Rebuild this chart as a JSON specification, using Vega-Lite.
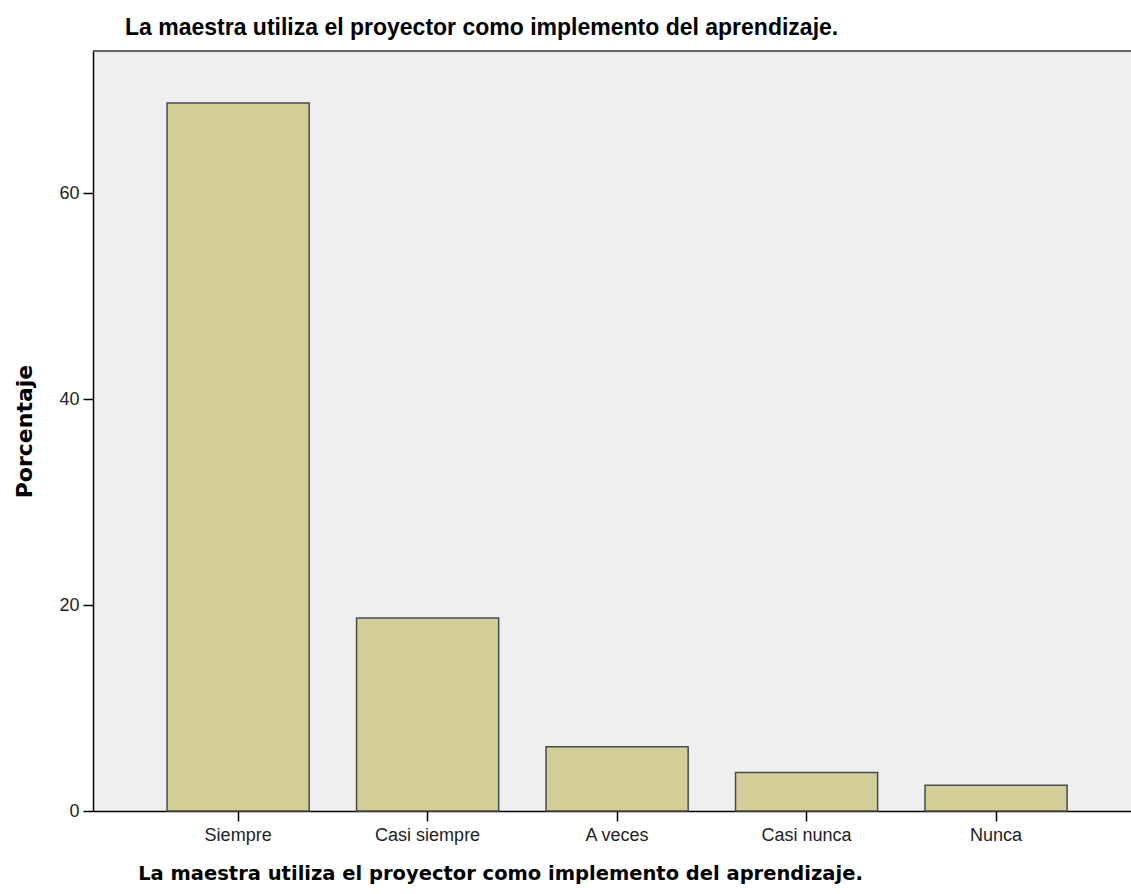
{
  "$schema": "https://vega.github.io/schema/vega-lite/v6.json",
  "autosize": "none",
  "padding": {"left": 93, "top": 51, "right": 0, "bottom": 83},
  "width": 1038,
  "height": 760,
  "background": "white",
  "config": {
    "view": {"fill": "#EFEFEF", "stroke": null},
    "font": "Liberation Sans"
  },
  "title": {
    "text": "La maestra utiliza el proyector como implemento del aprendizaje.",
    "anchor": "start",
    "frame": "group",
    "dx": 32,
    "offset": 10,
    "font": "Liberation Sans",
    "fontSize": 23,
    "fontWeight": "bold",
    "color": "#000000"
  },
  "data": {
    "values": [
      {"cat": "Siempre", "pct": 68.75},
      {"cat": "Casi siempre", "pct": 18.75},
      {"cat": "A veces", "pct": 6.25},
      {"cat": "Casi nunca", "pct": 3.75},
      {"cat": "Nunca", "pct": 2.5}
    ]
  },
  "layer": [
    {
      "mark": {"type": "bar", "fill": "#D3CE98", "stroke": "#4a4a4a", "strokeWidth": 1.5},
      "encoding": {
        "x": {
          "field": "cat",
          "type": "nominal",
          "sort": null,
          "scale": {"paddingInner": 0.25, "paddingOuter": 0.364, "align": 0.537},
          "axis": {
            "title": "La maestra utiliza el proyector como implemento del aprendizaje.",
            "titleFont": "DejaVu Sans",
            "titleFontSize": 19.5,
            "titleFontWeight": "bold",
            "titleColor": "#000000",
            "titleX": 407,
            "titleY": 68,
            "titleAlign": "center",
            "titleBaseline": "alphabetic",
            "labelAngle": 0,
            "labelFontSize": 18,
            "labelColor": "#222222",
            "labelPadding": 5,
            "domainColor": "#000000",
            "domainWidth": 1.5,
            "tickColor": "#000000",
            "tickSize": 10,
            "tickWidth": 1.5,
            "grid": false
          }
        },
        "y": {
          "field": "pct",
          "type": "quantitative",
          "scale": {"domain": [0, 73.8], "nice": false},
          "axis": {
            "values": [0, 20, 40, 60],
            "title": "Porcentaje",
            "titleFont": "DejaVu Sans",
            "titleFontSize": 22,
            "titleFontWeight": "bold",
            "titleColor": "#000000",
            "titleX": -69,
            "titleY": 380,
            "titleAngle": -90,
            "titleAlign": "center",
            "titleBaseline": "middle",
            "labelFontSize": 18,
            "labelColor": "#222222",
            "labelPadding": 4,
            "domainColor": "#000000",
            "domainWidth": 1.5,
            "tickColor": "#000000",
            "tickSize": 10,
            "tickWidth": 1.5,
            "grid": false
          }
        }
      }
    },
    {
      "mark": {"type": "rule", "color": "#666666", "strokeWidth": 2},
      "encoding": {"y": {"datum": 73.8}}
    }
  ]
}
